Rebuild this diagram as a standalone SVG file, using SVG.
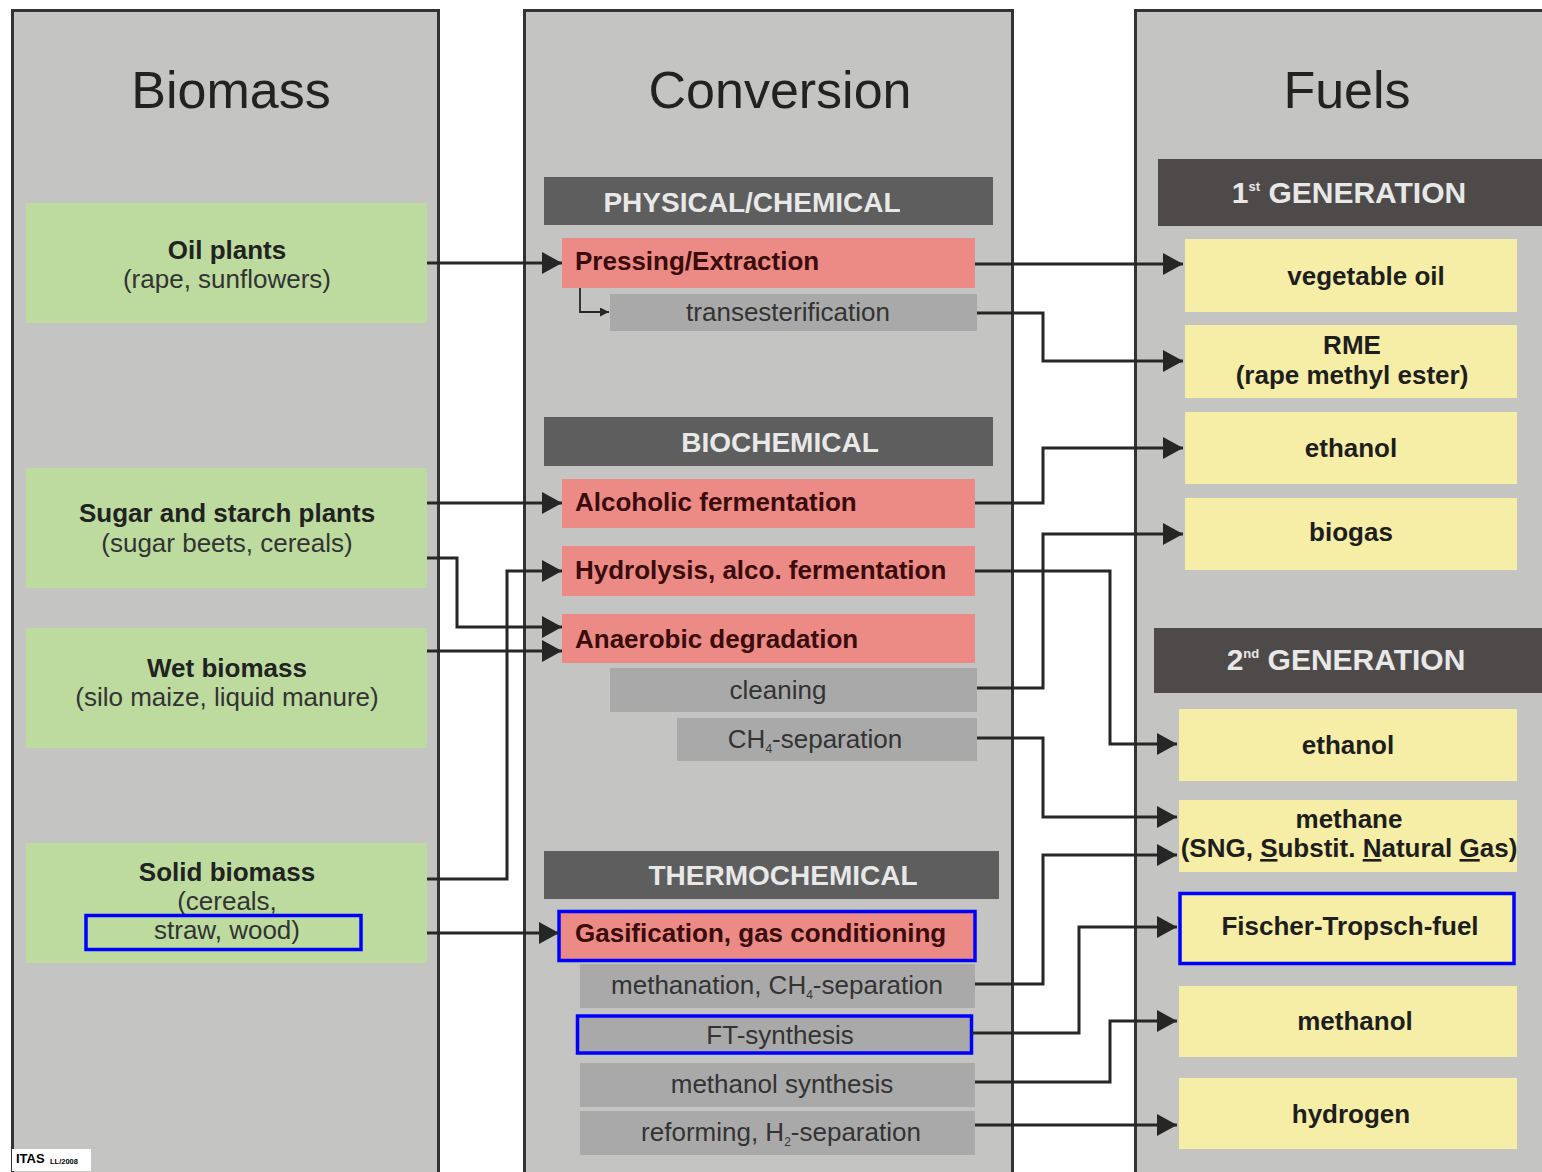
<svg xmlns="http://www.w3.org/2000/svg" width="1542" height="1172" viewBox="0 0 1542 1172">
<style>
.panel{fill:#c4c4c2;stroke:#333;stroke-width:3}
.green{fill:#bddb9f}
.red{fill:#ec8a86}
.grey{fill:#a9a9a9}
.hdr{fill:#5e5e5e}
.ghdr{fill:#4f4a4a}
.yel{fill:#f6eea6}
.blue{fill:none;stroke:#0000ff;stroke-width:3.5}
text{font-family:"Liberation Sans",Arial,sans-serif}
.title{font-size:52px;fill:#222;text-anchor:middle}
.htxt{font-size:28px;font-weight:bold;fill:#e8e8e8;text-anchor:middle}
.gtxt{font-size:30px;font-weight:bold;fill:#e8e8e8;text-anchor:middle}
.bold{font-size:26px;font-weight:bold;fill:#222;text-anchor:middle}
.sub{font-size:26px;fill:#333;text-anchor:middle}
.rtxt{font-size:26px;font-weight:bold;fill:#3a0c0c}
.gr{font-size:26px;fill:#333;text-anchor:middle}
.ftxt{font-size:26px;font-weight:bold;fill:#1e1e1e;text-anchor:middle}
.conn{fill:none;stroke:#262626;stroke-width:3}
</style>
<defs>
<marker id="arr" markerUnits="userSpaceOnUse" markerWidth="20" markerHeight="22" refX="20" refY="11" orient="auto">
<path d="M0,0 L20,11 L0,22 Z" fill="#262626"/>
</marker>
<marker id="sarr" markerUnits="userSpaceOnUse" markerWidth="9" markerHeight="9" refX="9" refY="4.5" orient="auto">
<path d="M0,0 L9,4.5 L0,9 Z" fill="#262626"/>
</marker>
</defs>
<rect x="0" y="0" width="1542" height="1172" fill="#fff"/>

<g id="biomass-panel">
<rect class="panel" x="12.5" y="10.5" width="426" height="1200"/>
<text class="title" x="231" y="108">Biomass</text>
</g>
<g id="conversion-panel">
<rect class="panel" x="524.5" y="10.5" width="488" height="1200"/>
<text class="title" x="780" y="108">Conversion</text>
</g>
<g id="fuels-panel">
<rect class="panel" x="1135.5" y="10.5" width="450" height="1200"/>
<text class="title" x="1347" y="108">Fuels</text>
</g>

<g id="oil-plants">
<rect class="green" x="26" y="203" width="401" height="120"/>
<text class="bold" x="227" y="259">Oil plants</text>
<text class="sub" x="227" y="288">(rape, sunflowers)</text>
</g>
<g id="sugar-starch">
<rect class="green" x="26" y="468" width="401" height="120"/>
<text class="bold" x="227" y="522">Sugar and starch plants</text>
<text class="sub" x="227" y="552">(sugar beets, cereals)</text>
</g>
<g id="wet-biomass">
<rect class="green" x="26" y="628" width="401" height="120"/>
<text class="bold" x="227" y="677">Wet biomass</text>
<text class="sub" x="227" y="706">(silo maize, liquid manure)</text>
</g>
<g id="solid-biomass">
<rect class="green" x="26" y="843" width="401" height="120"/>
<text class="bold" x="227" y="881">Solid biomass</text>
<text class="sub" x="227" y="910">(cereals,</text>
<text class="sub" x="227" y="939">straw, wood)</text>
<rect class="blue" x="86" y="915.5" width="275" height="34"/>
</g>

<g id="hdr-physical">
<rect class="hdr" x="544" y="177" width="449" height="48"/>
<text class="htxt" x="752" y="212">PHYSICAL/CHEMICAL</text>
</g>
<g id="pressing">
<rect class="red" x="562" y="238" width="413" height="50"/>
<text class="rtxt" x="575" y="270">Pressing/Extraction</text>
</g>
<g id="transesterification">
<rect class="grey" x="610" y="294" width="367" height="37"/>
<text class="gr" x="788" y="321">transesterification</text>
</g>
<g id="hdr-biochemical">
<rect class="hdr" x="544" y="417" width="449" height="49"/>
<text class="htxt" x="780" y="452">BIOCHEMICAL</text>
</g>
<g id="alcoholic">
<rect class="red" x="562" y="479" width="413" height="49"/>
<text class="rtxt" x="575" y="511">Alcoholic fermentation</text>
</g>
<g id="hydrolysis">
<rect class="red" x="562" y="546" width="413" height="50"/>
<text class="rtxt" x="575" y="579">Hydrolysis, alco. fermentation</text>
</g>
<g id="anaerobic">
<rect class="red" x="562" y="614" width="413" height="49"/>
<text class="rtxt" x="575" y="648">Anaerobic degradation</text>
</g>
<g id="cleaning">
<rect class="grey" x="610" y="668" width="367" height="44"/>
<text class="gr" x="778" y="699">cleaning</text>
</g>
<g id="ch4-sep">
<rect class="grey" x="677" y="718" width="300" height="43"/>
<text class="gr" x="815" y="748">CH<tspan font-size="12" dy="5">4</tspan><tspan dy="-5">-separation</tspan></text>
</g>
<g id="hdr-thermochemical">
<rect class="hdr" x="544" y="851" width="455" height="48"/>
<text class="htxt" x="783" y="885">THERMOCHEMICAL</text>
</g>
<g id="gasification">
<rect class="red" x="559" y="911" width="416" height="50"/>
<text class="rtxt" x="575" y="942">Gasification, gas conditioning</text>
<rect class="blue" x="559" y="911.5" width="416" height="49"/>
</g>
<g id="methanation">
<rect class="grey" x="580" y="964" width="395" height="44"/>
<text class="gr" x="777" y="994">methanation, CH<tspan font-size="12" dy="5">4</tspan><tspan dy="-5">-separation</tspan></text>
</g>
<g id="ft-synthesis">
<rect class="grey" x="577" y="1015" width="395" height="38"/>
<text class="gr" x="780" y="1044">FT-synthesis</text>
<rect class="blue" x="577.5" y="1016" width="394" height="37"/>
</g>
<g id="methanol-synthesis">
<rect class="grey" x="580" y="1063" width="395" height="44"/>
<text class="gr" x="782" y="1093">methanol synthesis</text>
</g>
<g id="reforming">
<rect class="grey" x="580" y="1111" width="395" height="44"/>
<text class="gr" x="781" y="1141">reforming, H<tspan font-size="12" dy="5">2</tspan><tspan dy="-5">-separation</tspan></text>
</g>

<g id="hdr-1st-gen">
<rect class="ghdr" x="1158" y="159" width="384" height="67"/>
<text class="gtxt" x="1349" y="203">1<tspan font-size="13" dy="-12">st</tspan><tspan dy="12"> GENERATION</tspan></text>
</g>
<g id="vegetable-oil">
<rect class="yel" x="1185" y="239" width="332" height="73"/>
<text class="ftxt" x="1366" y="285">vegetable oil</text>
</g>
<g id="rme">
<rect class="yel" x="1185" y="325" width="332" height="73"/>
<text class="ftxt" x="1352" y="354">RME</text>
<text class="ftxt" x="1352" y="384">(rape methyl ester)</text>
</g>
<g id="ethanol-1">
<rect class="yel" x="1185" y="412" width="332" height="72"/>
<text class="ftxt" x="1351" y="457">ethanol</text>
</g>
<g id="biogas">
<rect class="yel" x="1185" y="498" width="332" height="72"/>
<text class="ftxt" x="1351" y="541">biogas</text>
</g>
<g id="hdr-2nd-gen">
<rect class="ghdr" x="1154" y="628" width="388" height="65"/>
<text class="gtxt" x="1346" y="670">2<tspan font-size="13" dy="-12">nd</tspan><tspan dy="12"> GENERATION</tspan></text>
</g>
<g id="ethanol-2">
<rect class="yel" x="1179" y="709" width="338" height="72"/>
<text class="ftxt" x="1348" y="754">ethanol</text>
</g>
<g id="methane">
<rect class="yel" x="1179" y="800" width="338" height="72"/>
<text class="ftxt" x="1349" y="828">methane</text>
<text class="ftxt" x="1349" y="857">(SNG, <tspan text-decoration="underline">S</tspan>ubstit. <tspan text-decoration="underline">N</tspan>atural <tspan text-decoration="underline">G</tspan>as)</text>
</g>
<g id="fischer-tropsch">
<rect class="yel" x="1179" y="893" width="336" height="71"/>
<text class="ftxt" x="1350" y="935">Fischer-Tropsch-fuel</text>
<rect class="blue" x="1180" y="893.5" width="334" height="70"/>
</g>
<g id="methanol">
<rect class="yel" x="1179" y="986" width="338" height="71"/>
<text class="ftxt" x="1355" y="1030">methanol</text>
</g>
<g id="hydrogen">
<rect class="yel" x="1179" y="1078" width="338" height="71"/>
<text class="ftxt" x="1351" y="1123">hydrogen</text>
</g>

<g id="connectors">
<path class="conn" d="M427,263 H562" marker-end="url(#arr)"/>
<path class="conn" d="M427,503 H562" marker-end="url(#arr)"/>
<path class="conn" d="M427,558 H457 V627 H562" marker-end="url(#arr)"/>
<path class="conn" d="M427,651 H562" marker-end="url(#arr)"/>
<path class="conn" d="M427,879 H507 V571 H562" marker-end="url(#arr)"/>
<path class="conn" d="M427,933 H559" marker-end="url(#arr)"/>
<path fill="none" stroke="#262626" stroke-width="1.8" d="M580,288 V312 H609" marker-end="url(#sarr)"/>
<path class="conn" d="M975,264 H1183" marker-end="url(#arr)"/>
<path class="conn" d="M977,313 H1043 V361 H1183" marker-end="url(#arr)"/>
<path class="conn" d="M975,503 H1043 V448 H1183" marker-end="url(#arr)"/>
<path class="conn" d="M977,688 H1043 V534 H1183" marker-end="url(#arr)"/>
<path class="conn" d="M975,571 H1110 V744 H1177" marker-end="url(#arr)"/>
<path class="conn" d="M977,738 H1043 V817 H1177" marker-end="url(#arr)"/>
<path class="conn" d="M975,984 H1043 V855 H1177" marker-end="url(#arr)"/>
<path class="conn" d="M972,1033 H1079 V927 H1177" marker-end="url(#arr)"/>
<path class="conn" d="M975,1082 H1110 V1021 H1177" marker-end="url(#arr)"/>
<path class="conn" d="M975,1125 H1177" marker-end="url(#arr)"/>
</g>

<g id="itas-label">
<rect x="12" y="1149" width="79" height="22" fill="#fff"/>
<text x="16" y="1163" font-size="13" font-weight="bold" fill="#000">ITAS</text>
<text x="50" y="1164" font-size="7.5" font-weight="bold" fill="#000">LL/2008</text>
</g>
</svg>
